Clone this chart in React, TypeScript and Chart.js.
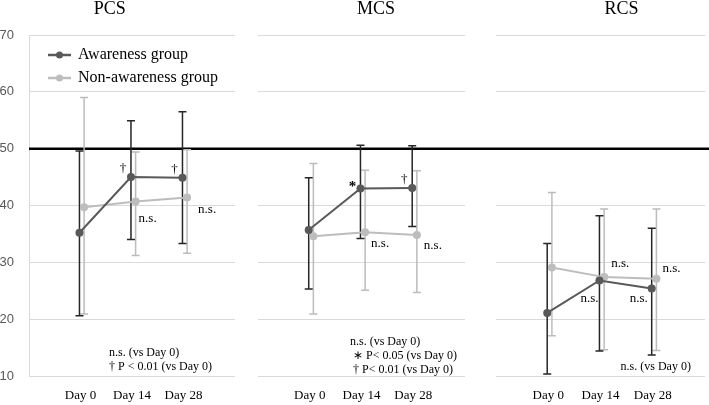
import React, { useEffect, useRef } from 'react';
import { Chart, registerables } from 'chart.js';

Chart.register(...registerables);

// ---------- data ----------
const categories = ['Day 0', 'Day 14', 'Day 28'];
const yTickValues = [10, 20, 30, 40, 50, 60, 70];
const seriesNames = ['Awareness group', 'Non-awareness group'];
const referenceValue = 50;

const awarenessPCS = [35.2, 45.0, 44.9];
const awarenessPCSUpper = [49.6, 54.9, 56.5];
const awarenessPCSLower = [20.6, 34.0, 33.3];
const nonAwarenessPCS = [39.7, 40.7, 41.4];
const nonAwarenessPCSUpper = [59.0, 49.4, 49.8];
const nonAwarenessPCSLower = [20.9, 31.2, 31.6];

const awarenessMCS = [35.7, 43.0, 43.1];
const awarenessMCSUpper = [44.9, 50.6, 50.5];
const awarenessMCSLower = [25.3, 34.2, 36.3];
const nonAwarenessMCS = [34.6, 35.3, 34.8];
const nonAwarenessMCSUpper = [47.4, 46.2, 46.1];
const nonAwarenessMCSLower = [20.9, 25.1, 24.7];

const awarenessRCS = [21.1, 26.8, 25.4];
const awarenessRCSUpper = [33.3, 38.2, 36.0];
const awarenessRCSLower = [10.35, 14.4, 13.7];
const nonAwarenessRCS = [29.1, 27.4, 27.1];
const nonAwarenessRCSUpper = [42.3, 39.4, 39.4];
const nonAwarenessRCSLower = [17.1, 14.6, 14.5];

type Note = { series: 'aw' | 'non'; index: number; text: string; dx: number; dy: number; align?: CanvasTextAlign; bold?: boolean };
type Foot = { text: string; x: number; y: number };

const notesPCS: Note[] = [
  { series: 'aw', index: 1, text: '†', dx: -8, dy: -5, align: 'center' },
  { series: 'aw', index: 2, text: '†', dx: -8, dy: -5, align: 'center' },
  { series: 'non', index: 1, text: 'n.s.', dx: 3, dy: 20, align: 'left' },
  { series: 'non', index: 2, text: 'n.s.', dx: 11, dy: 15, align: 'left' },
];
const notesMCS: Note[] = [
  { series: 'aw', index: 1, text: '*', dx: -8, dy: 3, align: 'center', bold: true },
  { series: 'aw', index: 2, text: '†', dx: -8, dy: -5, align: 'center' },
  { series: 'non', index: 1, text: 'n.s.', dx: 6, dy: 15, align: 'left' },
  { series: 'non', index: 2, text: 'n.s.', dx: 7, dy: 14, align: 'left' },
];
const notesRCS: Note[] = [
  { series: 'non', index: 1, text: 'n.s.', dx: 7, dy: -10, align: 'left' },
  { series: 'non', index: 2, text: 'n.s.', dx: 6, dy: -7, align: 'left' },
  { series: 'aw', index: 1, text: 'n.s.', dx: -1, dy: 21, align: 'right' },
  { series: 'aw', index: 2, text: 'n.s.', dx: -4, dy: 14, align: 'right' },
];

const footPCS: Foot[] = [
  { text: 'n.s. (vs Day 0)', x: 0.553, y: 13.5 },
  { text: '† P < 0.01 (vs Day 0)', x: 0.553, y: 11.06 },
];
const footMCS: Foot[] = [
  { text: 'n.s. (vs Day 0)', x: 0.778, y: 15.45 },
  { text: '∗ P< 0.05 (vs Day 0)', x: 0.836, y: 12.99 },
  { text: '† P< 0.01 (vs Day 0)', x: 0.836, y: 10.53 },
];
const footRCS: Foot[] = [{ text: 'n.s. (vs Day 0)', x: 1.385, y: 11.06 }];

// ---------- styles ----------
const W = 709;
const H = 405;
const SERIF = '"Liberation Serif", "Times New Roman", serif';
const SANS = '"Liberation Sans", Arial, sans-serif';
const AW_COLOR = '#595959';
const NON_COLOR = '#bdbdbd';
const AW_BAR = '#262626';
const NON_BAR = '#bcbcbc';
const GRID = '#d9d9d9';
const AW_OFFSET = -0.02;
const NON_OFFSET = 0.07;

type Panel = {
  title: string; titleX: number;
  aw: number[]; awUp: number[]; awLo: number[];
  non: number[]; nonUp: number[]; nonLo: number[];
  notes: Note[]; foot: Foot[];
  padLeft: number; padRight: number; first: boolean;
};

const panels: Panel[] = [
  { title: 'PCS', titleX: 0.57, aw: awarenessPCS, awUp: awarenessPCSUpper, awLo: awarenessPCSLower,
    non: nonAwarenessPCS, nonUp: nonAwarenessPCSUpper, nonLo: nonAwarenessPCSLower,
    notes: notesPCS, foot: footPCS, padLeft: 0, padRight: 474, first: true },
  { title: 'MCS', titleX: 1.28, aw: awarenessMCS, awUp: awarenessMCSUpper, awLo: awarenessMCSLower,
    non: nonAwarenessMCS, nonUp: nonAwarenessMCSUpper, nonLo: nonAwarenessMCSLower,
    notes: notesMCS, foot: footMCS, padLeft: 258, padRight: 244, first: false },
  { title: 'RCS', titleX: 1.40, aw: awarenessRCS, awUp: awarenessRCSUpper, awLo: awarenessRCSLower,
    non: nonAwarenessRCS, nonUp: nonAwarenessRCSUpper, nonLo: nonAwarenessRCSLower,
    notes: notesRCS, foot: footRCS, padLeft: 496, padRight: 0, first: false },
];

function drawErrorBars(chart: any, values: number[], up: number[], lo: number[], offset: number, color: string, width: number) {
  const { ctx, scales } = chart;
  const xs = scales.x;
  const ys = scales.y;
  ctx.save();
  ctx.strokeStyle = color;
  ctx.lineWidth = width;
  values.forEach((_, i) => {
    const x = xs.getPixelForValue(i + offset);
    const yt = ys.getPixelForValue(up[i]);
    const yb = ys.getPixelForValue(lo[i]);
    ctx.beginPath();
    ctx.moveTo(x, yt); ctx.lineTo(x, yb);
    ctx.moveTo(x - 4, yt); ctx.lineTo(x + 4, yt);
    ctx.moveTo(x - 4, yb); ctx.lineTo(x + 4, yb);
    ctx.stroke();
  });
  ctx.restore();
}

function makePlugin(p: Panel) {
  return {
    id: 'panelDecor',
    beforeDatasetsDraw(chart: any) {
      const { ctx, scales, chartArea } = chart;
      if (p.first) {
        const y = scales.y.getPixelForValue(referenceValue);
        ctx.save();
        ctx.strokeStyle = '#000';
        ctx.lineWidth = 2.5;
        ctx.beginPath();
        ctx.moveTo(chartArea.left, y);
        ctx.lineTo(chart.width, y);
        ctx.stroke();
        ctx.restore();
      }
      drawErrorBars(chart, p.non, p.nonUp, p.nonLo, NON_OFFSET, NON_BAR, 1.5);
      drawErrorBars(chart, p.aw, p.awUp, p.awLo, AW_OFFSET, AW_BAR, 1.5);
    },
    afterDatasetsDraw(chart: any) {
      const { ctx, scales, chartArea } = chart;
      const xs = scales.x;
      const ys = scales.y;
      ctx.save();
      ctx.fillStyle = '#000';
      ctx.textBaseline = 'alphabetic';
      // title
      ctx.font = `18px ${SERIF}`;
      ctx.textAlign = 'center';
      ctx.fillText(p.title, xs.getPixelForValue(p.titleX), chartArea.top - 21);
      // notes
      p.notes.forEach((n) => {
        const vals = n.series === 'aw' ? p.aw : p.non;
        const off = n.series === 'aw' ? AW_OFFSET : NON_OFFSET;
        const x = xs.getPixelForValue(n.index + off) + n.dx;
        const y = ys.getPixelForValue(vals[n.index]) + n.dy;
        ctx.font = `${n.bold ? 'bold 15px' : '13px'} ${SERIF}`;
        ctx.textAlign = n.align || 'left';
        ctx.fillText(n.text, x, y);
      });
      // footnotes
      ctx.font = `12px ${SERIF}`;
      ctx.textAlign = 'left';
      p.foot.forEach((f) => {
        ctx.fillText(f.text, xs.getPixelForValue(f.x), ys.getPixelForValue(f.y));
      });
      // legend
      if (p.first) {
        const colors = [AW_COLOR, NON_COLOR];
        seriesNames.forEach((name, k) => {
          const ly = chartArea.top + 20 + k * 23;
          ctx.strokeStyle = colors[k];
          ctx.fillStyle = colors[k];
          ctx.lineWidth = 2.5;
          ctx.beginPath();
          ctx.moveTo(chartArea.left + 19, ly);
          ctx.lineTo(chartArea.left + 42, ly);
          ctx.stroke();
          ctx.beginPath();
          ctx.arc(chartArea.left + 30.5, ly, 3.5, 0, Math.PI * 2);
          ctx.fill();
          ctx.fillStyle = '#000';
          ctx.font = `16px ${SERIF}`;
          ctx.textAlign = 'left';
          ctx.fillText(name, chartArea.left + 49, ly + 4);
        });
      }
      ctx.restore();
    },
  };
}

function makeConfig(p: Panel): any {
  return {
    type: 'line',
    data: {
      datasets: [
        {
          label: seriesNames[0],
          data: p.aw.map((v, i) => ({ x: i + AW_OFFSET, y: v })),
          borderColor: AW_COLOR,
          backgroundColor: AW_COLOR,
          borderWidth: 2,
          pointRadius: 4,
          pointBorderWidth: 0,
          showLine: true,
          order: 1,
        },
        {
          label: seriesNames[1],
          data: p.non.map((v, i) => ({ x: i + NON_OFFSET, y: v })),
          borderColor: NON_COLOR,
          backgroundColor: NON_COLOR,
          borderWidth: 2,
          pointRadius: 4,
          pointBorderWidth: 0,
          showLine: true,
          order: 2,
        },
      ],
    },
    options: {
      animation: false,
      responsive: false,
      devicePixelRatio: 1,
      events: [],
      layout: { padding: { left: p.padLeft, right: p.padRight, top: 35, bottom: 0 } },
      plugins: { legend: { display: false }, tooltip: { enabled: false }, title: { display: false } },
      scales: {
        x: {
          type: 'linear',
          min: -1,
          max: 3,
          grid: { display: false, drawTicks: false },
          border: { display: false },
          afterBuildTicks: (s: any) => { s.ticks = categories.map((_, i) => ({ value: i })); },
          afterFit: (s: any) => { s.height = 29; },
          ticks: {
            callback: (v: any) => categories[v] ?? '',
            font: { family: SERIF, size: 13 },
            color: '#000',
            padding: 12,
            maxRotation: 0,
            autoSkip: false,
          },
        },
        y: {
          type: 'linear',
          min: 10,
          max: 70,
          afterBuildTicks: (s: any) => { s.ticks = yTickValues.map((v) => ({ value: v })); },
          afterFit: (s: any) => { s.width = p.first ? 29 : 0; },
          grid: {
            drawTicks: false,
            color: (c: any) => (c.tick && c.tick.value === referenceValue ? 'rgba(0,0,0,0)' : GRID),
            lineWidth: 1,
          },
          border: { display: p.first, color: GRID, width: 1 },
          ticks: {
            display: p.first,
            font: { family: SANS, size: 13 },
            color: '#595959',
            padding: 15,
          },
        },
      },
    },
    plugins: [makePlugin(p)],
  };
}

export default function App() {
  const r0 = useRef<HTMLCanvasElement>(null);
  const r1 = useRef<HTMLCanvasElement>(null);
  const r2 = useRef<HTMLCanvasElement>(null);
  useEffect(() => {
    document.body.style.margin = '0';
    const refs = [r0, r1, r2];
    const charts = panels.map((p, k) => new Chart(refs[k].current as HTMLCanvasElement, makeConfig(p)));
    return () => charts.forEach((c) => c.destroy());
  }, []);
  return (
    <div style={{ position: 'relative', width: W, height: H }}>
      {[r0, r1, r2].map((r, k) => (
        <canvas key={k} ref={r} width={W} height={H} style={{ position: 'absolute', left: 0, top: 0 }} />
      ))}
    </div>
  );
}
